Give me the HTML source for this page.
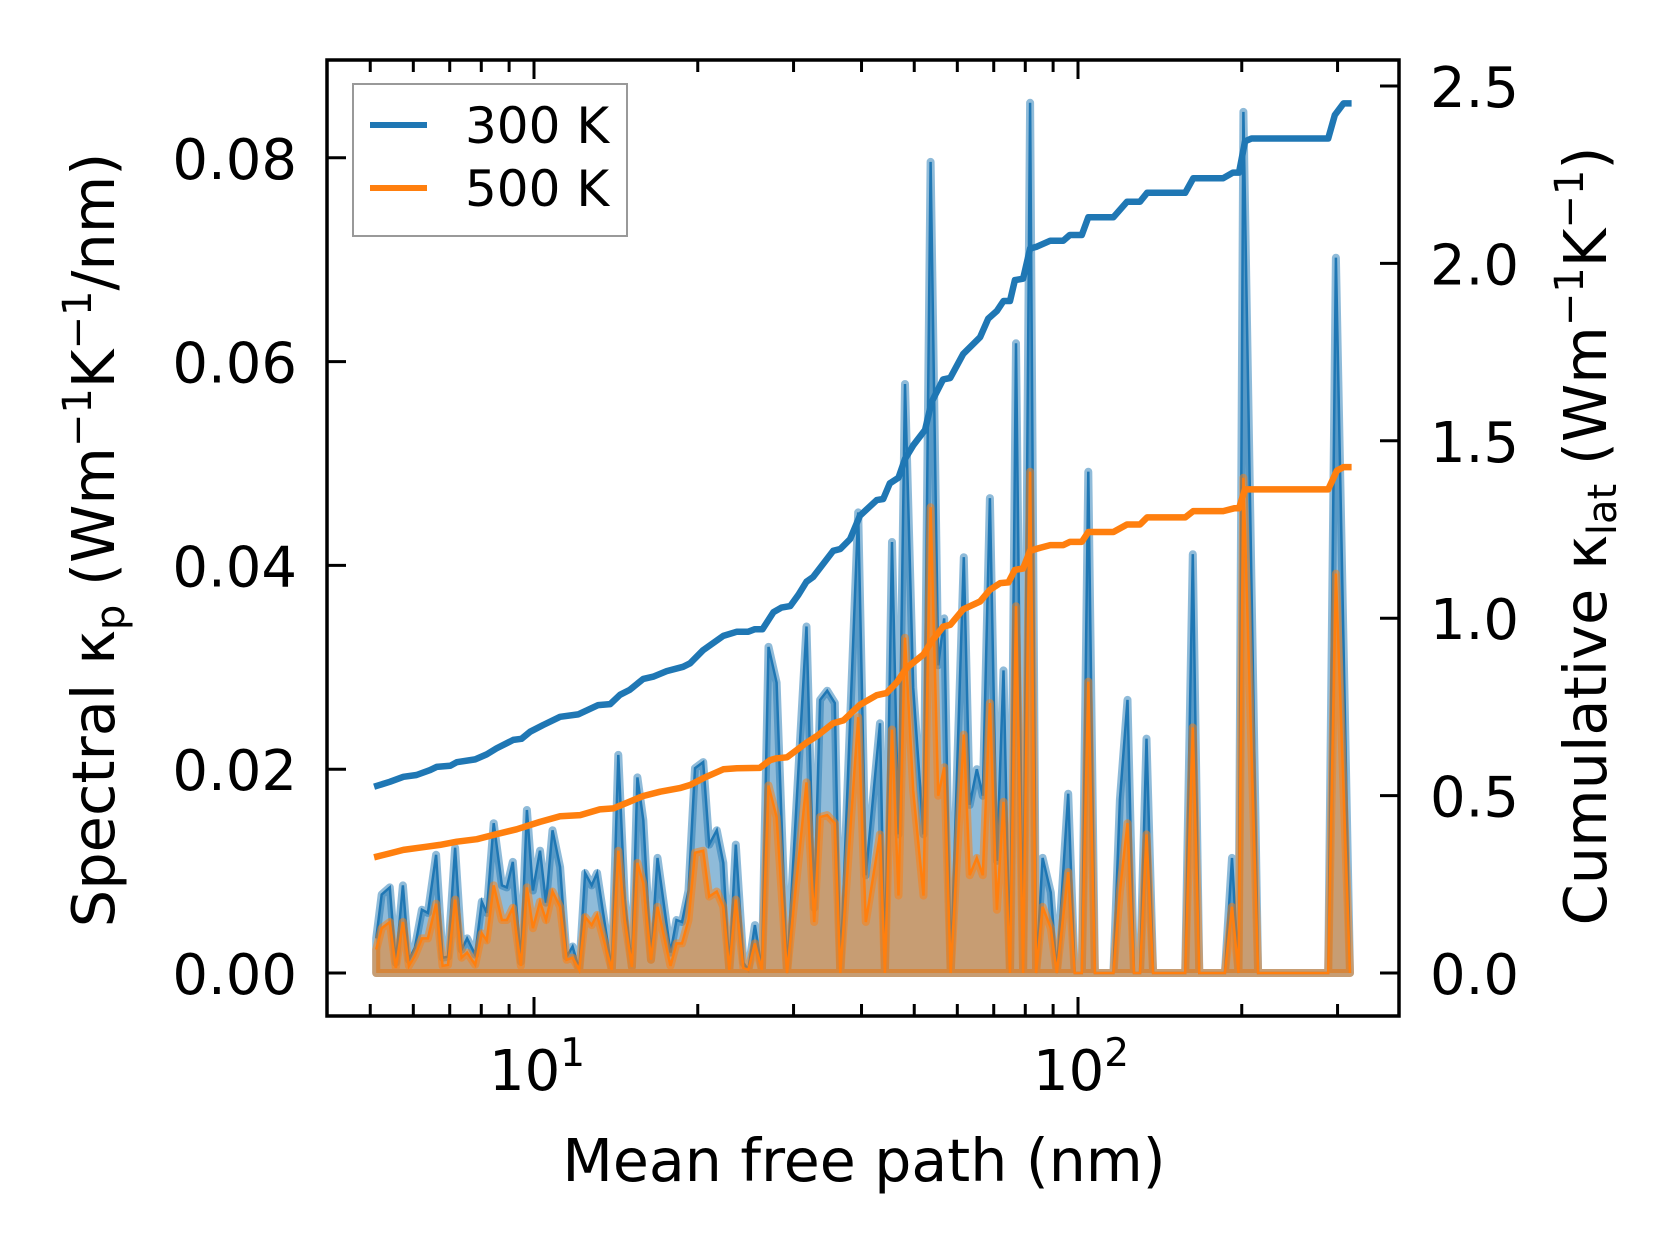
<!DOCTYPE html>
<html><head><meta charset="utf-8">
<style>
html,body{margin:0;padding:0;background:#fff;}
svg{display:block;font-family:"DejaVu Sans","Liberation Sans",sans-serif;}
</style></head>
<body>
<svg id="chart" width="1679" height="1254" viewBox="0 0 1679 1254" xmlns="http://www.w3.org/2000/svg">
<defs><clipPath id="plotclip"><rect x="327" y="60" width="1072" height="956"/></clipPath></defs>
<rect width="1679" height="1254" fill="#fff"/>
<g id="fills" clip-path="url(#plotclip)"></g>
<g id="axes"></g>
<g>
  <rect x="353" y="84" width="274" height="152" fill="#fff" fill-opacity="0.8" stroke="#999" stroke-width="2"/>
  <line x1="370" y1="125" x2="427" y2="125" stroke="#1f77b4" stroke-width="6"/>
  <text x="465" y="143" font-size="50">300 K</text>
  <line x1="370" y1="188" x2="427" y2="188" stroke="#ff7f0e" stroke-width="6"/>
  <text x="465" y="206" font-size="50">500 K</text>
</g>
<text x="864" y="1181" font-size="58.5" text-anchor="middle">Mean free path (nm)</text>
<text transform="translate(114,540) rotate(-90)" font-size="59" text-anchor="middle">Spectral κ<tspan font-size="40" dy="10">p</tspan><tspan dy="-10"> (Wm</tspan><tspan font-size="40" dy="-23">−1</tspan><tspan dy="23">K</tspan><tspan font-size="40" dy="-23">−1</tspan><tspan dy="23">/nm)</tspan></text>
<text transform="translate(1606,536) rotate(-90)" font-size="59" text-anchor="middle">Cumulative κ<tspan font-size="40" dy="10">lat</tspan><tspan dy="-10"> (Wm</tspan><tspan font-size="40" dy="-23">−1</tspan><tspan dy="23">K</tspan><tspan font-size="40" dy="-23">−1</tspan><tspan dy="23">)</tspan></text>
</svg>
<script>
// Spectral data (x as log10 of mean free path in nm)
const mfpLog10 = [0.710,0.720,0.735,0.746,0.759,0.770,0.781,0.794,0.805,0.820,0.832,0.842,0.855,0.867,0.877,0.892,0.904,0.913,0.926,0.941,0.950,0.961,0.976,0.987,0.998,1.011,1.022,1.034,1.048,1.060,1.071,1.083,1.094,1.106,1.116,1.143,1.155,1.167,1.180,1.190,1.201,1.215,1.227,1.251,1.262,1.272,1.284,1.296,1.311,1.322,1.336,1.348,1.359,1.371,1.385,1.394,1.406,1.419,1.431,1.446,1.465,1.501,1.515,1.526,1.539,1.553,1.563,1.596,1.610,1.636,1.645,1.658,1.670,1.682,1.697,1.716,1.729,1.743,1.754,1.766,1.790,1.801,1.814,1.825,1.838,1.851,1.863,1.875,1.886,1.899,1.912,1.923,1.935,1.950,1.961,1.982,1.994,2.007,2.019,2.031,2.065,2.077,2.091,2.103,2.114,2.126,2.138,2.197,2.211,2.223,2.270,2.283,2.295,2.304,2.331,2.460,2.474,2.500];
const spectral300 = [0.0034,0.0077,0.0084,0.001,0.0086,0.0013,0.0025,0.0062,0.0059,0.0116,0.0015,0.0016,0.0123,0.0023,0.0034,0.0018,0.007,0.0059,0.0147,0.0086,0.0084,0.0109,0.0011,0.016,0.0081,0.012,0.0069,0.014,0.0104,0.0016,0.0026,0.0003,0.0098,0.0086,0.0098,0.0003,0.0214,0.0072,0.0006,0.0192,0.015,0.0013,0.0113,0.002,0.0052,0.005,0.0081,0.0201,0.0207,0.0126,0.014,0.0108,0.0003,0.0126,0.001,0.0003,0.0047,0.0003,0.032,0.0285,0,0.034,0.0064,0.0268,0.0277,0.0265,0,0.0452,0.0096,0.0245,0,0.0423,0.0136,0.0578,0.028,0.0136,0.0796,0.0302,0.0348,0,0.0408,0.0165,0.02,0.0174,0.0466,0.011,0.0297,0,0.0618,0,0.0854,0,0.0113,0.0079,0,0.0176,0,0,0.0492,0,0,0.017,0.0268,0,0,0.023,0,0,0.0411,0,0,0.0113,0,0.0845,0,0,0.0702,0];
const spectral500 = [0.0023,0.0044,0.005,0.0005,0.005,0.0007,0.0017,0.0034,0.0034,0.0068,0.0007,0.0008,0.0072,0.0015,0.002,0.0008,0.0039,0.0032,0.0086,0.0052,0.0052,0.0064,0.0007,0.0084,0.0044,0.007,0.0052,0.008,0.0065,0.0013,0.0015,0.0003,0.0055,0.0047,0.0057,0.0003,0.012,0.0052,0.0006,0.0108,0.0088,0.0013,0.0065,0.0007,0.0029,0.0029,0.0052,0.0118,0.012,0.0075,0.008,0.0065,0.0003,0.0072,0.0005,0.0003,0.0029,0.0003,0.0184,0.0153,0,0.0187,0.005,0.0153,0.0155,0.0147,0,0.0251,0.005,0.0136,0,0.0239,0.0076,0.0329,0.0179,0.0076,0.0457,0.0174,0.0202,0,0.0234,0.0096,0.0113,0.0096,0.0265,0.0062,0.0168,0,0.036,0,0.0492,0,0.0065,0.0044,0,0.0099,0,0,0.0286,0,0,0.008,0.0147,0,0,0.0136,0,0,0.0241,0,0,0.0065,0,0.0486,0,0,0.0392,0];
// Cumulative data
const cumLog300 = [0.706,0.735,0.760,0.784,0.809,0.821,0.846,0.858,0.892,0.913,0.931,0.962,0.977,0.993,1.017,1.048,1.081,1.118,1.140,1.158,1.176,1.201,1.219,1.244,1.274,1.287,1.311,1.348,1.373,1.394,1.406,1.420,1.440,1.455,1.471,1.486,1.501,1.513,1.550,1.563,1.581,1.599,1.630,1.642,1.654,1.670,1.682,1.697,1.719,1.731,1.752,1.765,1.789,1.820,1.835,1.851,1.863,1.875,1.884,1.899,1.912,1.924,1.949,1.973,1.985,2.007,2.019,2.065,2.090,2.114,2.127,2.197,2.212,2.267,2.285,2.296,2.307,2.319,2.460,2.472,2.488,2.503];
const cum300 = [0.525,0.539,0.553,0.558,0.572,0.581,0.584,0.594,0.602,0.616,0.633,0.657,0.66,0.68,0.699,0.722,0.729,0.755,0.758,0.784,0.798,0.829,0.835,0.851,0.863,0.873,0.910,0.950,0.962,0.962,0.969,0.969,1.017,1.030,1.034,1.066,1.103,1.116,1.19,1.195,1.223,1.289,1.333,1.336,1.38,1.396,1.449,1.487,1.531,1.61,1.673,1.677,1.745,1.792,1.844,1.866,1.894,1.894,1.953,1.957,2.042,2.047,2.064,2.064,2.08,2.08,2.13,2.13,2.174,2.174,2.199,2.199,2.24,2.24,2.256,2.256,2.344,2.352,2.352,2.418,2.451,2.451];
const cumLog500 = [0.706,0.735,0.760,0.803,0.827,0.858,0.895,0.925,0.968,1.011,1.048,1.085,1.121,1.146,1.176,1.201,1.232,1.268,1.287,1.311,1.348,1.373,1.415,1.434,1.446,1.465,1.501,1.520,1.550,1.569,1.599,1.630,1.648,1.667,1.685,1.716,1.731,1.752,1.765,1.789,1.820,1.838,1.857,1.872,1.884,1.899,1.912,1.930,1.949,1.973,1.985,2.007,2.019,2.065,2.090,2.114,2.127,2.197,2.212,2.267,2.288,2.296,2.307,2.460,2.476,2.488,2.503];
const cum500 = [0.326,0.337,0.347,0.356,0.361,0.37,0.377,0.389,0.405,0.426,0.442,0.445,0.461,0.464,0.483,0.499,0.511,0.521,0.53,0.549,0.574,0.577,0.578,0.6,0.605,0.608,0.649,0.668,0.704,0.712,0.756,0.783,0.789,0.819,0.86,0.898,0.935,0.976,0.981,1.025,1.047,1.08,1.099,1.101,1.136,1.14,1.19,1.198,1.206,1.206,1.215,1.215,1.243,1.243,1.264,1.264,1.284,1.284,1.302,1.302,1.31,1.31,1.363,1.363,1.416,1.426,1.426];
const leftTicks = [0, 0.02, 0.04, 0.06, 0.08];
const leftTickLabels = ["0.00","0.02","0.04","0.06","0.08"];
const rightTicks = [0, 0.5, 1.0, 1.5, 2.0, 2.5];
const rightTickLabels = ["0.0","0.5","1.0","1.5","2.0","2.5"];
const xMajor = [1, 2];
const xMajorExp = ["1","2"];
const xMinorVals = [5,6,7,8,9,20,30,40,50,60,70,80,90,200,300];

const NS = "http://www.w3.org/2000/svg";
const L = 327, R = 1399, T = 60, B = 1016;
function xS(l){ return 534 + (l - 1) * 544; }
function yL(v){ return 973 - v * 10190; }
function yR(v){ return 973 - v * 354.8; }
function mk(tag, attrs, parent){ const e = document.createElementNS(NS, tag); for (const k in attrs) e.setAttribute(k, attrs[k]); parent.appendChild(e); return e; }

const fills = document.getElementById('fills');
function areaPath(xs, ys){
  let d = 'M' + xS(xs[0]).toFixed(1) + ',' + yL(0).toFixed(1);
  for (let i = 0; i < xs.length; i++) d += 'L' + xS(xs[i]).toFixed(1) + ',' + yL(ys[i]).toFixed(1);
  d += 'L' + xS(xs[xs.length-1]).toFixed(1) + ',' + yL(0).toFixed(1) + 'Z';
  return d;
}
function linePath(xs, ys, yf){
  let d = '';
  for (let i = 0; i < xs.length; i++) d += (i ? 'L' : 'M') + xS(xs[i]).toFixed(1) + ',' + yf(ys[i]).toFixed(1);
  return d;
}
const f300 = mk('path', {d: areaPath(mfpLog10, spectral300), fill:'#1f77b4', 'fill-opacity':0.5, stroke:'#1f77b4', 'stroke-opacity':0.5, 'stroke-width':8, 'stroke-linejoin':'round'}, fills);


const l300 = mk('path', {d: linePath(mfpLog10, spectral300, yL), fill:'none', stroke:'#1f77b4', 'stroke-width':2.5}, fills);


const f500 = mk('path', {d: areaPath(mfpLog10, spectral500), fill:'#ff7f0e', 'fill-opacity':0.5, stroke:'#ff7f0e', 'stroke-opacity':0.5, 'stroke-width':8, 'stroke-linejoin':'round'}, fills);


const l500 = mk('path', {d: linePath(mfpLog10, spectral500, yL), fill:'none', stroke:'#ff7f0e', 'stroke-width':2.5}, fills);


const c300 = mk('path', {d: linePath(cumLog300, cum300, yR), fill:'none', stroke:'#1f77b4', 'stroke-width':6.5, 'stroke-linejoin':'round'}, fills);


const c500 = mk('path', {d: linePath(cumLog500, cum500, yR), fill:'none', stroke:'#ff7f0e', 'stroke-width':6.5, 'stroke-linejoin':'round'}, fills);



const axes = document.getElementById('axes');
leftTicks.forEach((v, i) => {
  const y = yL(v);
  const t = mk('line', {x1:L, y1:y, x2:L+19, y2:y, stroke:'#000', 'stroke-width':3}, axes);
  
  
  const tx = mk('text', {x:297, y:y+21, 'font-size':56, 'text-anchor':'end'}, axes);
  tx.textContent = leftTickLabels[i];
  
  
});
rightTicks.forEach((v, i) => {
  const y = yR(v);
  const t = mk('line', {x1:R-19, y1:y, x2:R, y2:y, stroke:'#000', 'stroke-width':3}, axes);
  
  
  const tx = mk('text', {x:1430, y:y+21, 'font-size':56}, axes);
  tx.textContent = rightTickLabels[i];
  
  
});
xMajor.forEach((v, i) => {
  const x = xS(v);
  [[B, B-19], [T, T+19]].forEach(p => {
    const t = mk('line', {x1:x, y1:p[0], x2:x, y2:p[1], stroke:'#000', 'stroke-width':3}, axes);
    
    
  });
  const tx = mk('text', {x:x+3, y:1090, 'font-size':56, 'text-anchor':'middle'}, axes);
  tx.textContent = '10';
  const sup = mk('tspan', {'font-size':39, dy:-24}, tx);
  sup.textContent = xMajorExp[i];
  
  
});
xMinorVals.forEach(v => {
  const x = xS(Math.log10(v));
  [[B, B-12], [T, T+12]].forEach(p => {
    const t = mk('line', {x1:x, y1:p[0], x2:x, y2:p[1], stroke:'#000', 'stroke-width':3}, axes);
    
    
  });
});
const frame = mk('rect', {x:L, y:T, width:R-L, height:B-T, fill:'none', stroke:'#000', 'stroke-width':3.5}, axes);


</script>
</body></html>
